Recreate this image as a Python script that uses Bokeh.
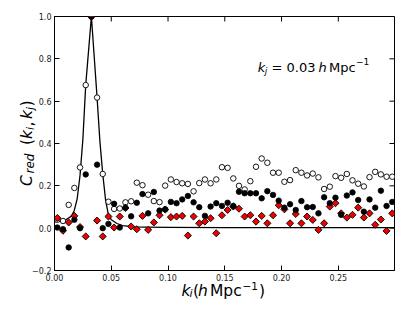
import math
from bokeh.plotting import figure
from bokeh.models import FixedTicker, Label, Range1d, NumeralTickFormatter
from bokeh.layouts import column
from bokeh.embed import file_html
from bokeh.resources import INLINE

# ---------------- data ----------------
k_i = [0.0025, 0.0075, 0.0125, 0.0175, 0.0225, 0.0275, 0.0325, 0.0375, 0.0425, 0.0475,
       0.0525, 0.0575, 0.0625, 0.0675, 0.0725, 0.0775, 0.0825, 0.0875, 0.0925, 0.0975,
       0.1025, 0.1075, 0.1125, 0.1175, 0.1225, 0.1275, 0.1325, 0.1375, 0.1425, 0.1475,
       0.1525, 0.1575, 0.1625, 0.1675, 0.1725, 0.1775, 0.1825, 0.1875, 0.1925, 0.1975,
       0.2025, 0.2075, 0.2125, 0.2175, 0.2225, 0.2275, 0.2325, 0.2375, 0.2425, 0.2475,
       0.2525, 0.2575, 0.2625, 0.2675, 0.2725, 0.2775, 0.2825, 0.2875, 0.2925, 0.2975]

c_open = [0.040, 0.034, 0.110, 0.190, 0.287, 0.676, 1.000, 0.617, 0.256, 0.125,
          0.091, 0.093, 0.122, 0.127, 0.215, 0.203, 0.158, 0.128, 0.123, 0.201,
          0.230, 0.218, 0.212, 0.209, 0.174, 0.213, 0.230, 0.212, 0.230, 0.288,
          0.285, 0.235, 0.200, 0.183, 0.222, 0.290, 0.329, 0.309, 0.262, 0.262,
          0.219, 0.227, 0.274, 0.262, 0.249, 0.258, 0.240, 0.185, 0.196, 0.246,
          0.238, 0.256, 0.226, 0.210, 0.197, 0.241, 0.266, 0.254, 0.243, 0.243]

c_black = [0.003, -0.005, -0.091, 0.040, 0.000, 0.254, 1.000, 0.300, 0.000, 0.020,
           0.115, 0.003, 0.097, 0.056, 0.120, 0.161, 0.070, 0.171, 0.083, 0.089,
           0.124, 0.118, 0.136, 0.152, 0.122, 0.099, 0.058, 0.102, 0.118, 0.105,
           0.120, 0.105, 0.172, 0.165, 0.165, 0.165, 0.141, 0.175, 0.157, 0.130,
           0.097, 0.113, 0.086, 0.128, 0.099, 0.100, 0.070, 0.146, 0.118, 0.144,
           0.063, 0.154, 0.169, 0.133, 0.078, 0.136, 0.097, 0.177, 0.105, 0.124]

c_red = [0.048, -0.012, 0.027, 0.058, 0.005, -0.039, 1.000, 0.036, -0.039, 0.055,
         0.003, 0.055, 0.095, 0.008, -0.005, 0.058, -0.008, 0.027, 0.061, 0.088,
         0.052, 0.055, 0.058, -0.035, 0.055, 0.023, 0.031, 0.047, -0.024, 0.061,
         0.086, 0.102, 0.092, 0.055, 0.061, 0.031, 0.058, 0.023, 0.061, 0.108,
         0.089, 0.023, 0.067, 0.023, 0.055, 0.039, -0.008, 0.023, 0.102, 0.118,
         0.070, 0.050, 0.063, 0.097, 0.050, 0.070, 0.016, 0.041, -0.013, 0.070]

# theory curve
curve_k = [0.0, 0.005, 0.01, 0.015, 0.0175, 0.02, 0.0225, 0.025, 0.0275, 0.0325,
           0.0375, 0.04, 0.0425, 0.045, 0.0475, 0.05, 0.055, 0.06, 0.07, 0.08,
           0.1, 0.15, 0.2, 0.25, 0.3]
curve_c = [0.030, 0.033, 0.040, 0.057, 0.085, 0.140, 0.250, 0.420, 0.676, 1.000,
           0.617, 0.410, 0.256, 0.133, 0.063, 0.040, 0.022, 0.012, 0.006, 0.005,
           0.004, 0.003, 0.003, 0.003, 0.003]

x_ticks = [0.0, 0.05, 0.1, 0.15, 0.2, 0.25]
x_tick_labels = ["0.00", "0.05", "0.10", "0.15", "0.20", "0.25"]
y_ticks = [-0.2, 0.0, 0.2, 0.4, 0.6, 0.8, 1.0]
y_tick_labels = ["\u22120.2", "0.0", "0.2", "0.4", "0.6", "0.8", "1.0"]

# ---------------- layout (canvas pixel coordinates) ----------------
X0, X1 = 0.0, 0.2995
Y0, Y1 = -0.2, 1.0
W, H = 413, 310
FL, FT, FW, FH = 54, 16, 340, 254  # plot frame
FONT = "DejaVu Sans"

p = figure(width=W, height=H, x_range=Range1d(X0, X1), y_range=Range1d(Y0, Y1),
           output_backend="svg", toolbar_location=None,
           min_border_left=FL, min_border_right=W - FL - FW,
           min_border_top=FT, min_border_bottom=H - FT - FH)
p.grid.visible = False
p.background_fill_color = "white"
p.border_fill_color = "white"
p.outline_line_color = "black"
p.outline_line_width = 1


def style_axis(ax, ticks, labels, fmt):
    ax.ticker = FixedTicker(ticks=ticks)
    ax.formatter = NumeralTickFormatter(format=fmt)
    ax.major_label_overrides = dict(zip(ticks, labels))
    ax.major_tick_in = 5
    ax.major_tick_out = 0
    ax.minor_tick_in = 0
    ax.minor_tick_out = 0
    ax.major_tick_line_color = "black"
    ax.major_tick_line_width = 1
    ax.axis_line_color = "black"
    ax.axis_line_width = 1
    ax.major_label_text_font = FONT
    ax.major_label_text_font_size = "8px"
    ax.major_label_text_color = "#222222"
    ax.major_label_standoff = 3


style_axis(p.xaxis[0], x_ticks, x_tick_labels, "0.00")
style_axis(p.yaxis[0], y_ticks, y_tick_labels, "0.0")

# mirrored inward ticks on the top and right frame edges (outer half is clipped)
p.scatter(x_ticks, [Y1] * len(x_ticks), marker="dash", angle=math.pi / 2, size=10,
          line_color="black", line_width=1)
p.scatter([X1] * len(y_ticks), y_ticks, marker="dash", size=10,
          line_color="black", line_width=1)

# ---------------- marks ----------------
p.line(curve_k, curve_c, line_color="black", line_width=1.3, line_join="round")
p.scatter(k_i, c_open, marker="circle", size=5.5, fill_color="white",
          line_color="black", line_width=0.9)
p.scatter(k_i, c_red, marker="square", angle=math.pi / 4, size=5, fill_color="#ee0000",
          line_color="black", line_width=0.9)
p.scatter(k_i, c_black, marker="circle", size=5.5, fill_color="black",
          line_color="black", line_width=0.8)

# ---------------- transparent overlay for the math-style texts ----------------
ov = figure(width=W, height=H, x_range=Range1d(0, W), y_range=Range1d(H, 0),
            x_axis_type=None, y_axis_type=None, min_border=0,
            min_border_left=0, min_border_right=0, min_border_top=0, min_border_bottom=0,
            output_backend="svg", toolbar_location=None)
ov.outline_line_color = None
ov.background_fill_alpha = 0
ov.border_fill_alpha = 0
ov.margin = (-H, 0, 0, 0)
for fig in (p, ov):
    try:
        fig.frame_align = False
    except AttributeError:
        pass


def piece(text, px, py, size, italic=False, angle=0.0):
    ov.add_layout(Label(x=px, y=py, text=text,
                        text_font=FONT, text_font_size=f"{size}px",
                        text_font_style="italic" if italic else "normal",
                        text_align="left", text_baseline="alphabetic",
                        angle=angle, text_color="black"))


# x-axis label: k_i (h Mpc^-1)
piece("k", 181.0, 290, 15.5, True)
piece("i", 189.0, 293.2, 11, True)
piece("(", 192.5, 290, 15.5)
piece("h", 197.5, 290, 15.5, True)
piece("Mpc", 209.5, 290, 15.5)
piece("\u22121", 242, 285.5, 10.5)
piece(")", 258.5, 290, 15.5)

# y-axis label: C_red (k_i, k_j), rotated
A = math.pi / 2
piece("C", 26.5, 185.5, 15.5, True, A)
piece("red", 29.5, 173.0, 12, True, A)
piece("(", 26.5, 144.5, 15.5, False, A)
piece("k", 26.5, 138.5, 15.5, True, A)
piece("i", 29.5, 129.5, 11, True, A)
piece(",", 26.5, 126.0, 15.5, False, A)
piece("k", 26.5, 118.5, 15.5, True, A)
piece("j", 29.5, 109.5, 11, True, A)
piece(")", 26.5, 106.0, 15.5, False, A)

# annotation: k_j = 0.03 h Mpc^-1
piece("k", 257.3, 67, 13, True)
piece("j", 264.3, 70, 9, True)
piece("=", 271, 67, 13)
piece("0.03", 286, 67, 13)
piece("h", 318, 67, 13, True)
piece("Mpc", 328.5, 67, 13)
piece("\u22121", 355.5, 60.5, 9)

layout = column(p, ov)
open("out.html", "w").write(file_html(layout, INLINE))
